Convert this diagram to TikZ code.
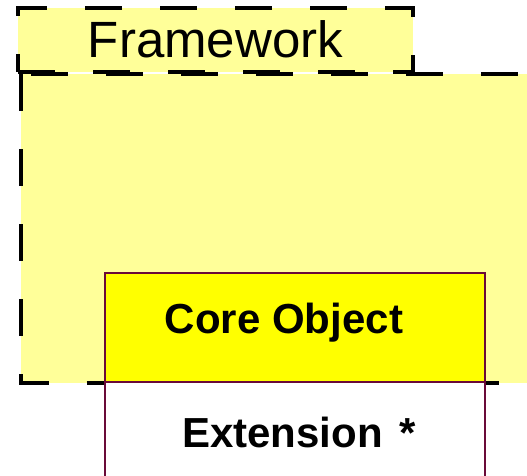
\documentclass[tikz,border=0pt]{standalone}
\usepackage{fontspec}
\setmainfont{Liberation Sans}
\definecolor{paleyellow}{HTML}{FFFF99}
\definecolor{coreyellow}{HTML}{FFFF00}
\definecolor{maroon}{HTML}{6A0A38}
\tikzset{
  dashbox/.style={fill=paleyellow, draw=black, line width=4pt, dash pattern=on 37pt off 38pt, inner sep=0pt},
  objbox/.style={draw=maroon, line width=2pt, inner sep=0pt},
  bigtext/.style={font=\fontsize{51}{51}\selectfont, inner sep=0pt},
  boldtext/.style={font=\fontsize{42}{42}\selectfont\bfseries, inner sep=0pt}
}
\begin{document}
\begin{tikzpicture}[x=1pt,y=-1pt]
\useasboundingbox (0,0) rectangle (527,476);
\clip (0,0) rectangle (527,476);
% main framework area (extends past right edge)
\path[dashbox] (20.5,74) rectangle (560,383);
% tab
\node[dashbox, minimum width=395pt, minimum height=64pt] (tab) at (215.5,40) {};
\node[bigtext, anchor=base] (fwtext) at (215.5,58) {Framework};
% core object
\node[objbox, fill=coreyellow, minimum width=380pt, minimum height=109pt] (core) at (295,327.5) {};
\node[boldtext, anchor=base] (coretext) at (284,333) {Core Object};
% extension
\node[objbox, fill=white, minimum width=380pt, minimum height=120pt] (ext) at (295,442) {};
\node[boldtext, anchor=base west] (exttext) at (182,447) {Extension\hspace{17pt}*};
\end{tikzpicture}
\end{document}
